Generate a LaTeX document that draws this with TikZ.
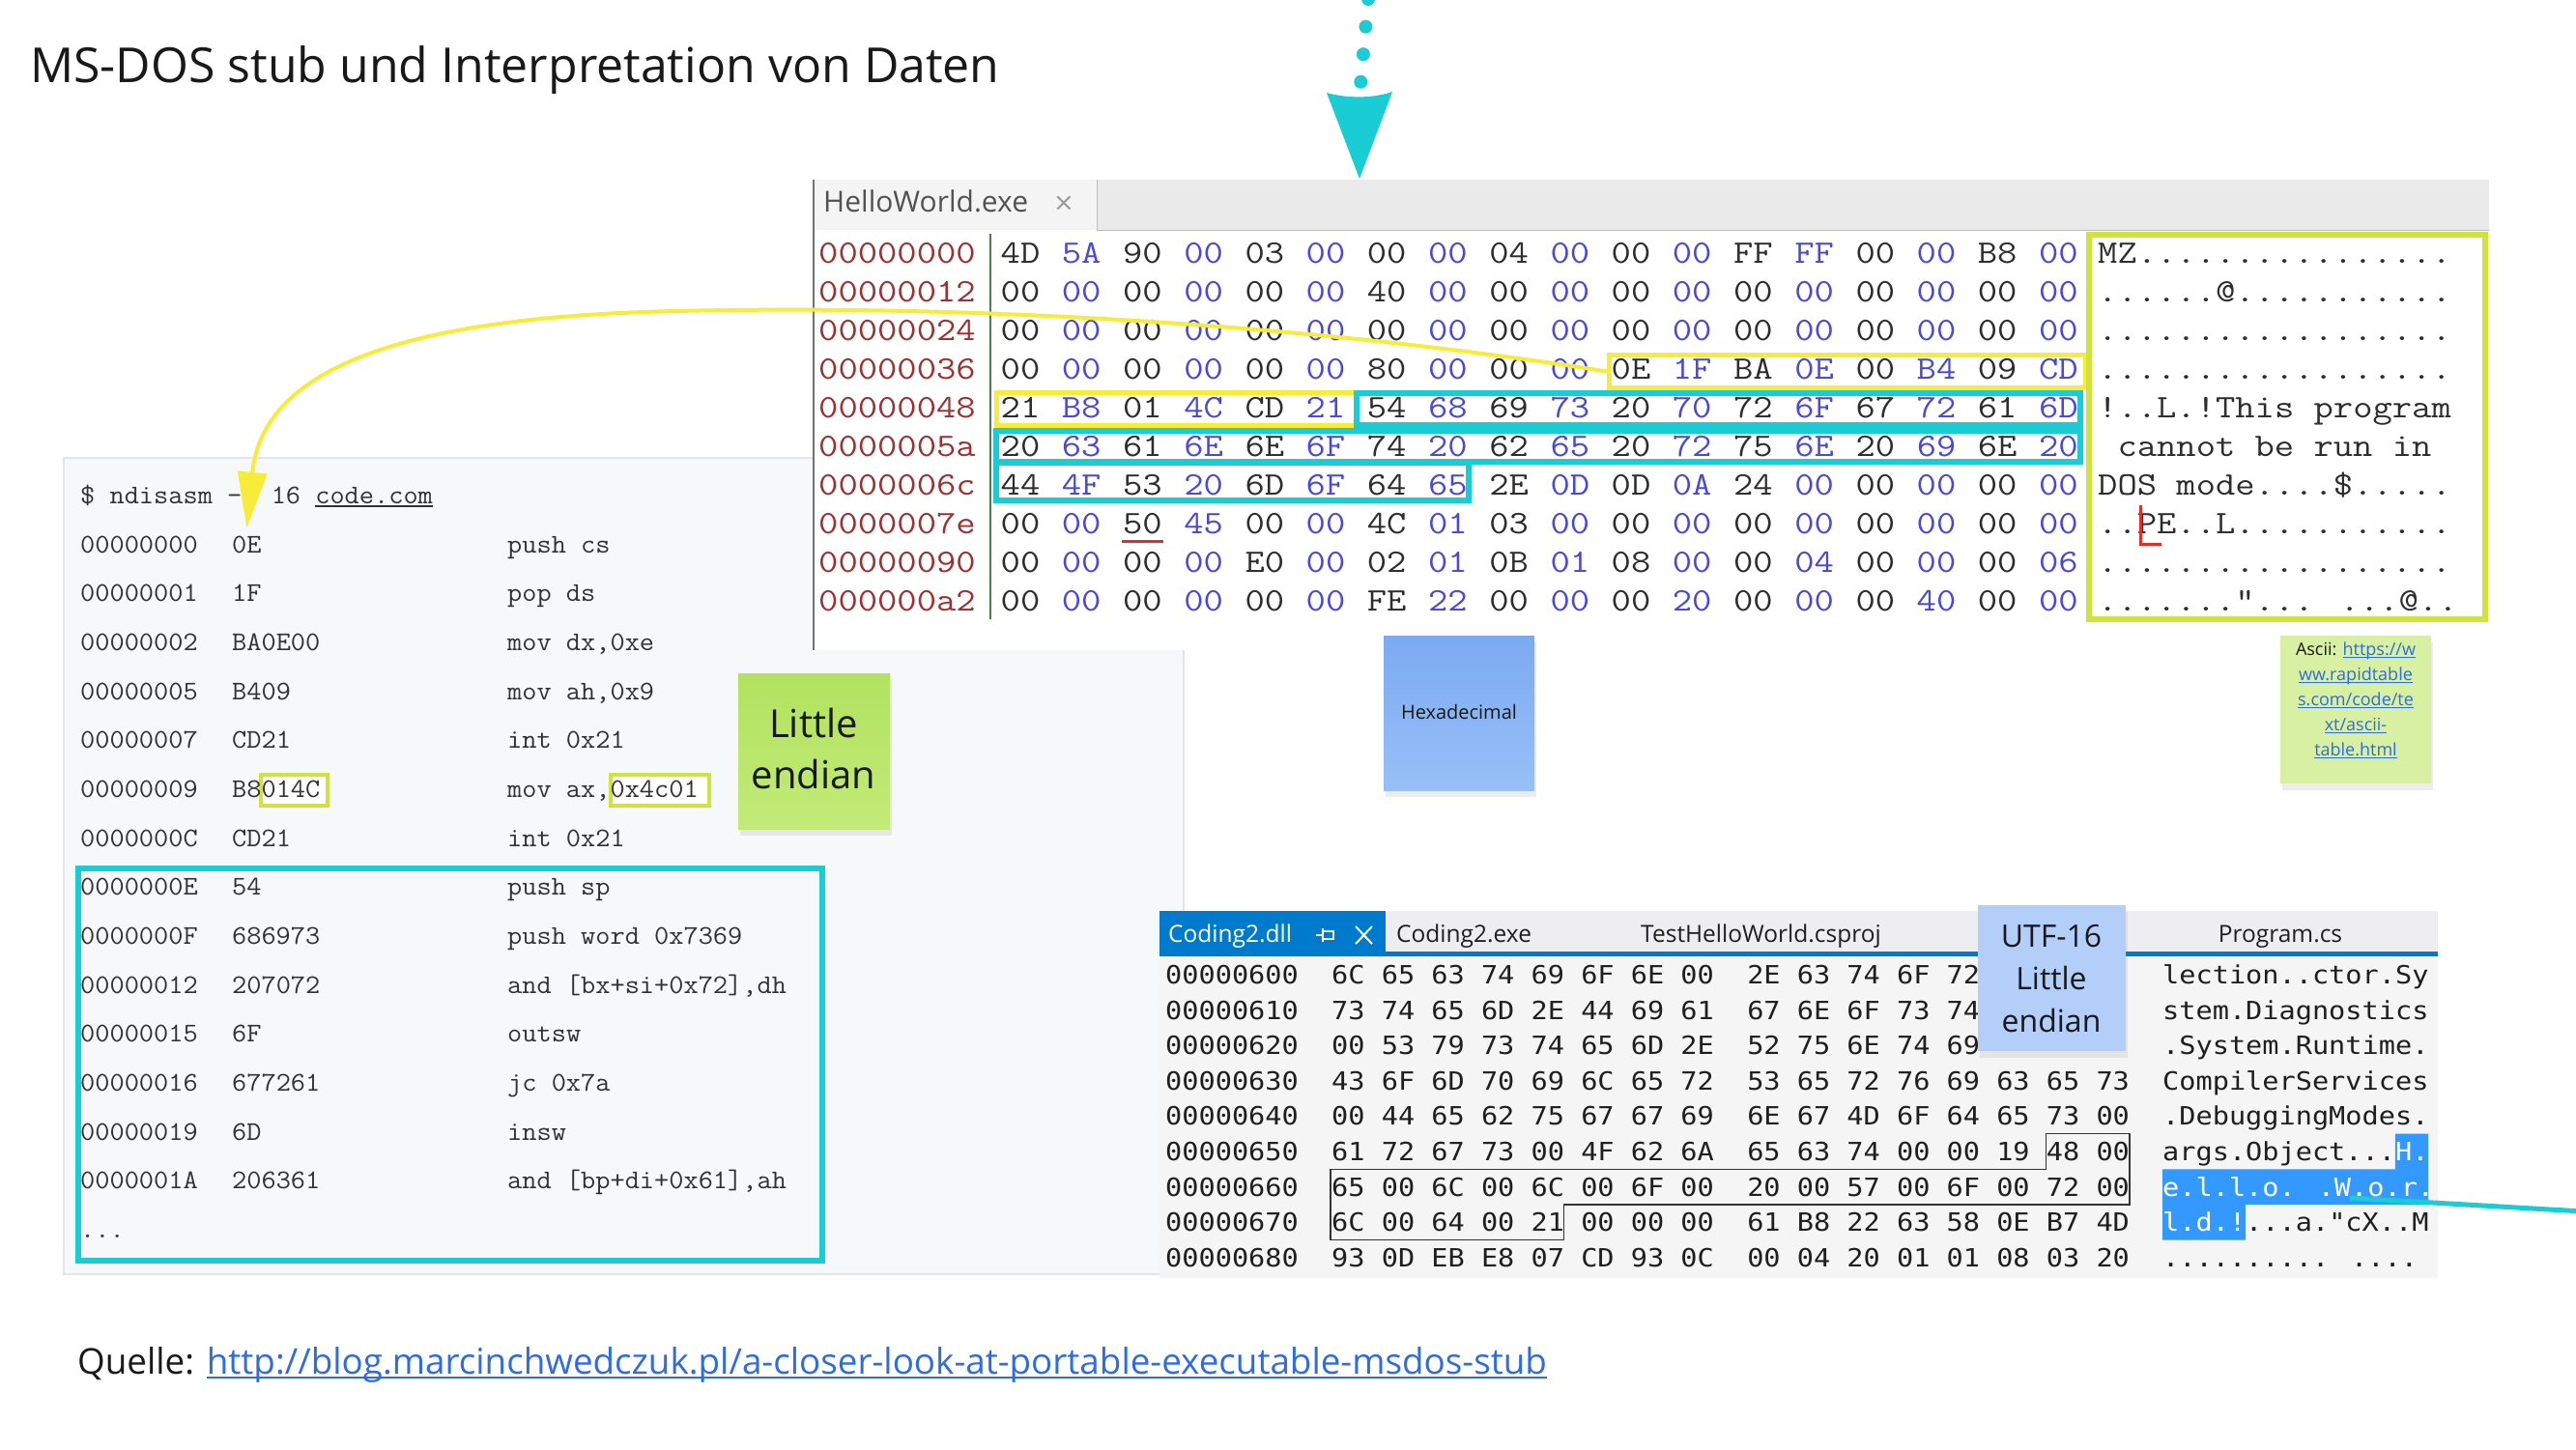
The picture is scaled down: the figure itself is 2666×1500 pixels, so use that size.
\documentclass[tikz,border=0pt]{standalone}
\usepackage{fontspec}
\usepackage{graphicx}
\usetikzlibrary{arrows.meta,shadows}
\setmainfont{Open Sans}
\newfontfamily\vsmonofont{DejaVu Sans Mono}
\newfontfamily\symfont{DejaVu Sans}

\definecolor{tealc}{RGB}{26,204,212}
\definecolor{yelc}{RGB}{248,236,58}
\definecolor{limec}{RGB}{206,228,60}
\definecolor{addrred}{RGB}{160,48,48}
\definecolor{hexblue}{RGB}{72,72,225}
\definecolor{hexdark}{RGB}{45,45,45}
\definecolor{codebg}{RGB}{246,248,250}
\definecolor{codeline}{RGB}{226,229,233}
\definecolor{codetext}{RGB}{50,50,50}
\definecolor{vsbg}{RGB}{245,245,245}
\definecolor{vstab}{RGB}{238,238,242}
\definecolor{vsblue}{RGB}{0,122,204}
\definecolor{selblue}{RGB}{51,153,255}
\definecolor{linkblue}{RGB}{45,108,225}
\definecolor{notegreenA}{RGB}{178,226,95}
\definecolor{notegreenB}{RGB}{194,235,120}
\definecolor{notelime}{RGB}{216,240,162}
\definecolor{noteblue}{RGB}{180,206,250}
\definecolor{hexnoteA}{RGB}{124,170,242}
\definecolor{hexnoteB}{RGB}{152,192,247}
\definecolor{tabgray}{RGB}{234,234,234}
\definecolor{tabactive}{RGB}{244,244,244}
\definecolor{redmark}{RGB}{225,45,45}
\definecolor{sepgreen}{RGB}{70,130,70}
\definecolor{titlec}{RGB}{25,25,25}

% monospace text stretched to the column pitch of each listing
\newcommand\hx[1]{\scalebox{1.16}[1]{#1}}
\newcommand\cx[1]{\scalebox{1.054}[1]{#1}}
\newcommand\vx[1]{\scalebox{1.099}[1]{#1}}
% underlined text: depth, thickness, text
\newcommand\ulk[3]{\setbox0\hbox{#3}\rlap{\rule[-#1]{\wd0}{#2}}\box0}

\newcommand\hexfnt{\ttfamily\fontsize{34}{34}\selectfont}
\newcommand\codefnt{\ttfamily\fontsize{28}{28}\selectfont}
\newcommand\vsfnt{\vsmonofont\fontsize{26}{26}\selectfont}

% one line of the hex viewer: index, y, address, 18 bytes
\newcommand\hexrow[4]{%
  \node[haddr] (ha#1) at (847,#2) {\hx{#3}};
  \foreach \hbyt [count=\hidx from 0] in {#4} {
    \ifodd\hidx\def\hcol{hexblue}\else\def\hcol{hexdark}\fi
    \node[hbyte, text=\hcol] (hb#1-\hidx) at ({1056+63.2*\hidx},#2) {\hx{\hbyt}};
  }
}
% one line of the disassembly: index, address, bytes, instruction
\newcommand\coderow[4]{%
  \node[ctext] (ca#1) at (83,{513+50.65*#1}) {\cx{#2}};
  \node[ctext] (cb#1) at (240,{513+50.65*#1}) {\cx{#3}};
  \node[ctext] (cm#1) at (525,{513+50.65*#1}) {\cx{#4}};
}
% one line of the Visual Studio hex editor: index, address+bytes, text
\newcommand\vsrow[3]{%
  \node[vsline] (vh#1) at (1206,{1009+36.6*#1}) {\vx{#2}};
  \node[vsline] (va#1) at (2238,{1009+36.6*#1}) {\vx{#3}};
}

\begin{document}
\begin{tikzpicture}[x=1pt,y=-1pt,
  lbl/.style={inner sep=0pt, anchor=base west},
  panel/.style={anchor=north west, inner sep=0pt},
  haddr/.style={anchor=base west, inner sep=0pt, yshift=-10.4pt, text=addrred, font=\hexfnt},
  hbyte/.style={anchor=base, inner sep=0pt, yshift=-10.4pt, font=\hexfnt},
  hascii/.style={anchor=base west, inner sep=0pt, yshift=-10.4pt, text=hexdark, font=\hexfnt},
  ctext/.style={anchor=base west, inner sep=0pt, yshift=-8.6pt, text=codetext, font=\codefnt},
  vsline/.style={anchor=base west, inner sep=0pt, yshift=-9.5pt, text=black!88, font=\vsfnt},
  ybox/.style={draw=yelc, line width=5pt},
  tbox/.style={draw=tealc, line width=6pt},
  lbox/.style={draw=limec, line width=6pt},
  note/.style={anchor=north west, inner sep=0pt,
    drop shadow={shadow xshift=2pt, shadow yshift=-7pt, opacity=0.14}},
  notetext/.style={inner sep=0pt, align=center, text=black!90},
  yelarrow/.style={draw=yelc, line width=4pt, -{Triangle[length=58pt, width=30pt]}},
]
\useasboundingbox (0,0) rectangle (2666,1500);
\fill[white] (0,0) rectangle (2666,1500);

% ---------- title ----------
\node[lbl, font=\fontsize{50}{60}\selectfont, text=titlec] (title) at (31,85)
  {MS-DOS stub und Interpretation von Daten};

% ---------- disassembly panel ----------
\node[panel, fill=codebg, draw=codeline, line width=1.5pt,
  minimum width=1159pt, minimum height=845pt] (codepanel) at (65,473) {};

% ---------- hex viewer panel ----------
\node[panel, fill=white, minimum width=1734pt, minimum height=487pt] (hexpanel) at (842,186) {};
\node[panel, fill=tabgray, minimum width=1734pt, minimum height=52pt] (hexbar) at (842,186) {};
\node[panel, fill=tabactive, minimum width=293pt, minimum height=52pt] (hextab) at (842,186) {};
\draw[black!25, line width=1.5pt] (hextab.north east) -- (hextab.south east) -- (hexbar.south east);
\draw[black!55, line width=1.5pt] (hexbar.north west) -- (hexpanel.south west);
\node[lbl, font=\fontsize{30}{36}\selectfont, text=black!68] (tabname) at (852,219) {HelloWorld.exe};
\node[lbl, font=\symfont\fontsize{26}{30}\selectfont, text=black!40] (tabclose) at (1090,218) {×};

% separator between offsets and bytes
\draw[sepgreen, line width=1.5pt] (1025,242) -- (1025,641);

\hexrow{0}{262}{00000000}{4D,5A,90,00,03,00,00,00,04,00,00,00,FF,FF,00,00,B8,00}
\hexrow{1}{302}{00000012}{00,00,00,00,00,00,40,00,00,00,00,00,00,00,00,00,00,00}
\hexrow{2}{342}{00000024}{00,00,00,00,00,00,00,00,00,00,00,00,00,00,00,00,00,00}
\hexrow{3}{382}{00000036}{00,00,00,00,00,00,80,00,00,00,0E,1F,BA,0E,00,B4,09,CD}
\hexrow{4}{422}{00000048}{21,B8,01,4C,CD,21,54,68,69,73,20,70,72,6F,67,72,61,6D}
\hexrow{5}{462}{0000005a}{20,63,61,6E,6E,6F,74,20,62,65,20,72,75,6E,20,69,6E,20}
\hexrow{6}{502}{0000006c}{44,4F,53,20,6D,6F,64,65,2E,0D,0D,0A,24,00,00,00,00,00}
\hexrow{7}{542}{0000007e}{00,00,50,45,00,00,4C,01,03,00,00,00,00,00,00,00,00,00}
\hexrow{8}{582}{00000090}{00,00,00,00,E0,00,02,01,0B,01,08,00,00,04,00,00,00,06}
\hexrow{9}{622}{000000a2}{00,00,00,00,00,00,FE,22,00,00,00,20,00,00,00,40,00,00}

\node[hascii] (hs0) at (2171,262) {\hx{MZ................}};
\node[hascii] (hs1) at (2171,302) {\hx{......@...........}};
\node[hascii] (hs2) at (2171,342) {\hx{..................}};
\node[hascii] (hs3) at (2171,382) {\hx{..................}};
\node[hascii] (hs4) at (2171,422) {\hx{!..L.!This program}};
\node[hascii] (hs5) at (2171,462) {\hx{~cannot be run in~}};
\node[hascii] (hs6) at (2171,502) {\hx{DOS mode....\$.....}};
\node[hascii] (hs7) at (2171,542) {\hx{..PE..L...........}};
\node[hascii] (hs8) at (2171,582) {\hx{..................}};
\node[hascii] (hs9) at (2171,622) {\hx{......."... ...@..}};

% highlighted byte ranges
\node[ybox, panel, minimum width=493pt, minimum height=34pt] (yb1) at (1663,365) {};
\draw[ybox] (1031,406.5) rectangle (1404,440.5);
\draw[tbox] (1404,407) rectangle (2153,440);
\draw[tbox] (1031,446) rectangle (2153,478);
\draw[tbox] (1031,479) rectangle (1520,518);
\draw[lbox] (2162,243) rectangle (2572,641);

% PE signature marks
\draw[redmark, line width=3pt] (1161,560) -- (1204,560);
\draw[redmark, line width=3pt] (2215,523) -- (2215,563) -- (2237,563);

% ---------- disassembly listing ----------
\draw[limec, fill=white, line width=4pt] (269.5,802) rectangle (339,834);
\draw[limec, fill=white, line width=4pt] (632,802) rectangle (734,834);

\node[ctext] (cmd) at (83,513) {\cx{\$ ndisasm -b 16 \ulk{3pt}{1.2pt}{code.com}}};
\coderow{1}{00000000}{0E}{push cs}
\coderow{2}{00000001}{1F}{pop ds}
\coderow{3}{00000002}{BA0E00}{mov dx,0xe}
\coderow{4}{00000005}{B409}{mov ah,0x9}
\coderow{5}{00000007}{CD21}{int 0x21}
\coderow{6}{00000009}{B8014C}{mov ax,0x4c01}
\coderow{7}{0000000C}{CD21}{int 0x21}
\coderow{8}{0000000E}{54}{push sp}
\coderow{9}{0000000F}{686973}{push word 0x7369}
\coderow{10}{00000012}{207072}{and [bx+si+0x72],dh}
\coderow{11}{00000015}{6F}{outsw}
\coderow{12}{00000016}{677261}{jc 0x7a}
\coderow{13}{00000019}{6D}{insw}
\coderow{14}{0000001A}{206361}{and [bp+di+0x61],ah}
\node[ctext] (cdots) at (83,1272.8) {\cx{...}};

\draw[tbox] (80.5,898.5) rectangle (850.5,1304.5);

% ---------- sticky notes ----------
\node[note, top color=notegreenA, bottom color=notegreenB,
  minimum width=157pt, minimum height=161pt] (noteLE) at (764,697) {};
\node[notetext, font=\fontsize{40}{53}\selectfont] (noteLEtext) at (842,775) {Little\\endian};

\node[note, top color=hexnoteA, bottom color=hexnoteB,
  minimum width=156pt, minimum height=160pt] (noteHex) at (1432,658) {};
\node[notetext, font=\fontsize{20}{24}\selectfont] (noteHextext) at (1510,737) {Hexadecimal};

\node[note, fill=notelime, minimum width=156pt, minimum height=153pt] (noteAscii) at (2360,658) {};
\node[notetext, font=\fontsize{18}{26}\selectfont] (noteAsciitext) at (2438,725)
  {Ascii: \textcolor{linkblue}{\ulk{2.5pt}{1pt}{https://w}}\\
   \textcolor{linkblue}{\ulk{2.5pt}{1pt}{ww.rapidtable}}\\
   \textcolor{linkblue}{\ulk{2.5pt}{1pt}{s.com/code/te}}\\
   \textcolor{linkblue}{\ulk{2.5pt}{1pt}{xt/ascii-}}\\
   \textcolor{linkblue}{\ulk{2.5pt}{1pt}{table.html}}};

% ---------- Visual Studio hex editor ----------
\node[panel, fill=vsbg, minimum width=1323pt, minimum height=380pt] (vspanel) at (1200,943) {};
\node[panel, fill=vstab, minimum width=1323pt, minimum height=45pt] (vsbar) at (1200,943) {};
\node[panel, fill=vsblue, minimum width=234pt, minimum height=45pt] (vstabsel) at (1200,943) {};
\fill[vsblue] (1200,985) rectangle (2523,990);
\node[lbl, font=\fontsize{24.5}{30}\selectfont, text=white] (vstab1) at (1209,975) {Coding2.dll};
\draw[white, line width=1.6pt] (1362,968) -- (1369,968) (1369,961) -- (1369,975)
  (1369,964) -- (1380,964) -- (1380,972) -- (1369,972);
\draw[white, line width=2pt] (1403,959) -- (1420,977) (1403,977) -- (1420,959);
\node[lbl, font=\fontsize{24.5}{30}\selectfont, text=black!88] (vstab2) at (1445,975) {Coding2.exe};
\node[lbl, font=\fontsize{24.5}{30}\selectfont, text=black!88] (vstab3) at (1698,975) {TestHelloWorld.csproj};
\node[inner sep=0pt, anchor=base, font=\fontsize{24.5}{30}\selectfont, text=black!88] (vstab4) at (2360,975) {Program.cs};

% selected characters
\fill[selblue] (2478.8,1173.7) -- (2513.2,1173.7) -- (2513.2,1246.9) -- (2324,1246.9)
  -- (2324,1283.5) -- (2238,1283.5) -- (2238,1210.3) -- (2478.8,1210.3) -- cycle;

% the first three lines run on under the UTF-16 note
\vsrow{0}{00000600~~6C 65 63 74 69 6F 6E 00~~2E 63 74 6F 72}{lection..ctor.Sy}
\vsrow{1}{00000610~~73 74 65 6D 2E 44 69 61~~67 6E 6F 73 74}{stem.Diagnostics}
\vsrow{2}{00000620~~00 53 79 73 74 65 6D 2E~~52 75 6E 74 69}{.System.Runtime.}
\vsrow{3}{00000630~~43 6F 6D 70 69 6C 65 72~~53 65 72 76 69 63 65 73}{CompilerServices}
\vsrow{4}{00000640~~00 44 65 62 75 67 67 69~~6E 67 4D 6F 64 65 73 00}{.DebuggingModes.}
\vsrow{5}{00000650~~61 72 67 73 00 4F 62 6A~~65 63 74 00 00 19 48 00}{args.Object...\textcolor{white}{H.}}
\vsrow{6}{00000660~~65 00 6C 00 6C 00 6F 00~~20 00 57 00 6F 00 72 00}{\textcolor{white}{e.l.l.o. .W.o.r.}}
\vsrow{7}{00000670~~6C 00 64 00 21 00 00 00~~61 B8 22 63 58 0E B7 4D}{\textcolor{white}{l.d.!}...a."cX..M}
\vsrow{8}{00000680~~93 0D EB E8 07 CD 93 0C~~00 04 20 01 01 08 03 20}{.......... ....}

% outline round the UTF-16 string bytes
\draw[black!80, line width=1.3pt] (2117.6,1173.7) -- (2204,1173.7) -- (2204,1246.9)
  -- (1618.8,1246.9) -- (1618.8,1283.5) -- (1377,1283.5) -- (1377,1210.3)
  -- (2117.6,1210.3) -- cycle;

\node[note, fill=noteblue, minimum width=153pt, minimum height=151pt] (noteUTF) at (2047,937) {};
\node[notetext, font=\fontsize{32}{44}\selectfont] (noteUTFtext) at (2123,1013) {UTF-16\\Little\\endian};

% ---------- connectors ----------
\draw[yelarrow] (yb1.west) .. controls (1350,335) and (1000,315) .. (700,322)
  .. controls (420,328) and (272,380) .. ([yshift=8pt]cb1.north);

\coordinate (tealA) at (2432,1240);
\coordinate (tealB) at (2690,1255);
\draw[tealc, line width=5pt] (tealA) -- (tealB);

\coordinate (dotA) at (1416,-1);
\coordinate (dotM) at (1408,88);
\coordinate (dotB) at (1407,185);
\draw[tealc, line width=14pt, line cap=round, dash pattern=on 0pt off 28.7pt] (dotA) -- (dotM);
\fill[tealc] (1373,96) .. controls (1395,102) and (1420,102) .. (1441,95) -- (dotB) -- cycle;

% ---------- source ----------
\node[lbl, font=\fontsize{36.8}{44}\selectfont, text=titlec] (src) at (80,1422)
  {Quelle: \textcolor{linkblue}{\ulk{5pt}{2.5pt}{http://blog.marcinchwedczuk.pl/a-closer-look-at-portable-executable-msdos-stub}}};
\end{tikzpicture}
\end{document}
